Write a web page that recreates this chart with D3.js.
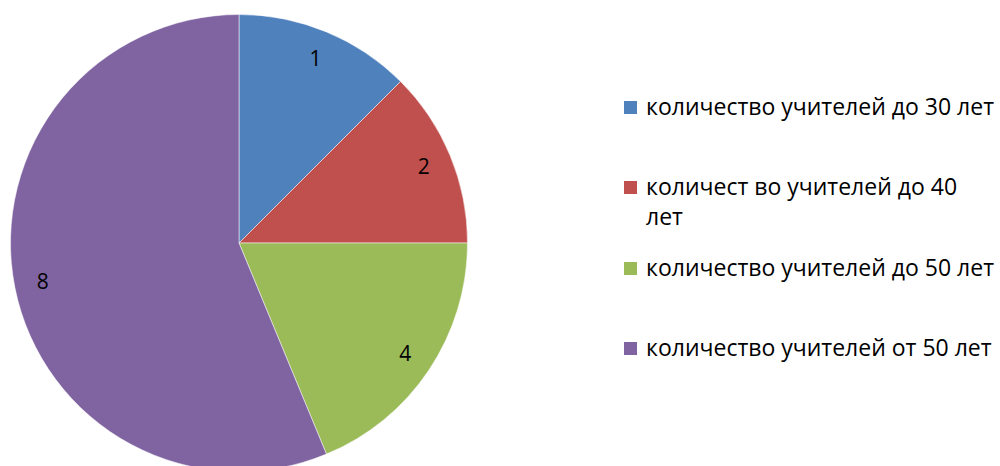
<!DOCTYPE html>
<html lang="ru">
<head>
  <meta charset="UTF-8">
  <title>Учителя по возрасту</title>
  <style>
    body { margin: 0; background: #fff; overflow: hidden; }
    text { font-family: "Open Sans", Lato, sans-serif; fill: #000; }
  </style>
</head>
<body>
  <script src="https://cdn.jsdelivr.net/npm/d3@7"></script>
  <script>
    const categories = [
      "количество учителей до 30 лет",
      "количест во учителей до 40 лет",
      "количество учителей до 50 лет",
      "количество учителей от 50 лет"
    ];
    // slice sizes
    const values = [2, 2, 3, 9];
    // data labels as printed on the slices
    const dataLabels = ["1", "2", "4", "8"];
    const colors = ["#4F81BD", "#C0504D", "#9BBB59", "#8064A2"];

    const width = 1000, height = 466;
    const cx = 239, cy = 243, radius = 228.5;

    const svg = d3.select("body").append("svg")
      .attr("width", width).attr("height", height);

    const pie = d3.pie().sort(null).value(d => d.v);
    const arcs = pie(values.map((v, i) => ({ v, i })));

    const arc = d3.arc().innerRadius(0).outerRadius(radius);
    const labelArc = d3.arc().innerRadius(200).outerRadius(200);

    const g = svg.append("g").attr("transform", `translate(${cx},${cy})`);

    g.selectAll("path").data(arcs).enter().append("path")
      .attr("d", arc)
      .attr("fill", d => colors[d.data.i])
      .attr("stroke", "#fff")
      .attr("stroke-width", 0.5);

    g.selectAll("text").data(arcs).enter().append("text")
      .attr("transform", d => `translate(${labelArc.centroid(d)})`)
      .attr("text-anchor", "middle")
      .attr("dy", "0.35em")
      .attr("font-size", "21px")
      .text(d => dataLabels[d.data.i]);

    // legend
    const legendRows = [107, 187, 268, 348];
    const legend = svg.append("g");
    const item = legend.selectAll("g").data(categories).enter().append("g")
      .attr("transform", (d, i) => `translate(624,${legendRows[i]})`);

    item.append("rect")
      .attr("x", 0).attr("y", -6)
      .attr("width", 13).attr("height", 13)
      .attr("fill", (d, i) => colors[i]);

    item.each(function(d, i) {
      const t = d3.select(this).append("text")
        .attr("font-size", "23px");
      // second entry wraps in the original
      const lines = i === 1 ? ["количест во учителей до 40", "лет"] : [d];
      lines.forEach((ln, k) => t.append("tspan").attr("x", 22).attr("dy", k === 0 ? "0.35em" : "30").text(ln));
    });
  </script>
</body>
</html>
